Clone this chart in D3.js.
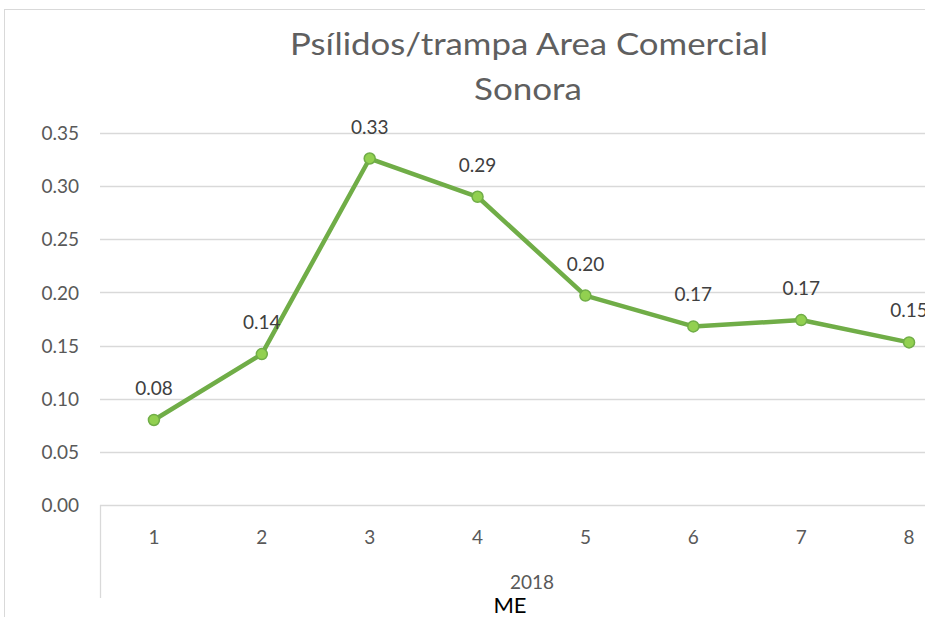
<!DOCTYPE html>
<html lang="es">
<head>
<meta charset="UTF-8">
<title>Psílidos/trampa Area Comercial Sonora</title>
<script src="https://d3js.org/d3.v7.min.js"></script>
<style>
    body { margin: 0; background: #fff; overflow: hidden; }
    svg { display: block; font-family: Lato, "Open Sans", sans-serif; }
    .tick text { fill: #595959; font-size: 19px; font-family: Lato, sans-serif; }
    .label { fill: #404040; font-size: 19px; }
</style>
</head>
<body>
<script>
    // data
    const months = ["1", "2", "3", "4", "5", "6", "7", "8"];
    const values = [0.080, 0.142, 0.326, 0.290, 0.197, 0.168, 0.174, 0.153];
    const labels = ["0.08", "0.14", "0.33", "0.29", "0.20", "0.17", "0.17", "0.15"];
    const yTicks = [0, 0.05, 0.10, 0.15, 0.20, 0.25, 0.30, 0.35];

    const width = 925, height = 617;
    const margin = {left: 100, top: 133, bottom: 505};
    const plotRight = 963; // chart continues past the window edge

    const svg = d3.select("body").append("svg")
        .attr("width", width)
        .attr("height", height);

    // outer chart border
    svg.append("rect")
        .attr("x", 4.5).attr("y", 9.5)
        .attr("width", 1000).attr("height", 700)
        .attr("fill", "none")
        .attr("stroke", "#d9d9d9");

    const x = d3.scaleBand().domain(months).range([margin.left, plotRight]);
    const y = d3.scaleLinear().domain([0, 0.35]).range([margin.bottom, margin.top]);

    // gridlines
    svg.append("g")
        .selectAll("line")
        .data(yTicks)
        .join("line")
        .attr("x1", margin.left).attr("x2", plotRight)
        .attr("y1", d => Math.round(y(d)) + 0.5)
        .attr("y2", d => Math.round(y(d)) + 0.5)
        .attr("stroke", "#d9d9d9")
        .attr("stroke-width", 1.3);

    // y axis labels
    const yAxis = svg.append("g")
        .attr("transform", `translate(${margin.left - 21},0)`)
        .call(d3.axisLeft(y).tickValues(yTicks).tickFormat(d3.format(".2f")).tickSize(0).tickPadding(0));
    yAxis.select(".domain").remove();
    yAxis.selectAll("text").attr("dy", "0.35em");

    // x axis (multi-level: month, then year)
    const xAxis = svg.append("g")
        .attr("transform", `translate(0,${margin.bottom})`)
        .call(d3.axisBottom(x).tickSize(0).tickPadding(39));
    xAxis.select(".domain").remove();
    xAxis.selectAll("text").attr("dy", 0);

    svg.append("line")
        .attr("x1", margin.left + 0.5).attr("x2", margin.left + 0.5)
        .attr("y1", margin.bottom).attr("y2", 598)
        .attr("stroke", "#d9d9d9")
        .attr("stroke-width", 1.3);

    svg.append("text")
        .attr("x", 532).attr("y", 589)
        .attr("text-anchor", "middle")
        .attr("fill", "#595959")
        .attr("font-size", 19)
        .text("2018");

    svg.append("text")
        .attr("x", 510).attr("y", 613)
        .attr("text-anchor", "middle")
        .attr("fill", "#000")
        .attr("font-size", 22)
        .text("ME");

    // title
    const title = svg.append("text")
        .attr("text-anchor", "middle")
        .attr("fill", "#5f5f5f")
        .attr("font-size", 30);
    title.append("tspan").attr("x", 529).attr("y", 55)
        .attr("textLength", 478).attr("lengthAdjust", "spacingAndGlyphs")
        .text("Psílidos/trampa Area Comercial");
    title.append("tspan").attr("x", 528).attr("y", 100)
        .attr("textLength", 108).attr("lengthAdjust", "spacingAndGlyphs")
        .text("Sonora");

    // line + markers
    const cx = (d, i) => x(months[i]) + x.bandwidth() / 2;
    const line = d3.line().x(cx).y(d => y(d));

    svg.append("path")
        .datum(values)
        .attr("d", line)
        .attr("fill", "none")
        .attr("stroke", "#70ad47")
        .attr("stroke-width", 4.5)
        .attr("stroke-linejoin", "round");

    svg.append("g")
        .selectAll("circle")
        .data(values)
        .join("circle")
        .attr("cx", cx)
        .attr("cy", d => y(d))
        .attr("r", 5.5)
        .attr("fill", "#92d050")
        .attr("stroke", "#70ad47")
        .attr("stroke-width", 1.5);

    svg.append("g")
        .selectAll("text")
        .data(values)
        .join("text")
        .attr("class", "label")
        .attr("x", cx)
        .attr("y", d => y(d) - 25)
        .attr("text-anchor", "middle")
        .text((d, i) => labels[i]);
</script>
</body>
</html>
